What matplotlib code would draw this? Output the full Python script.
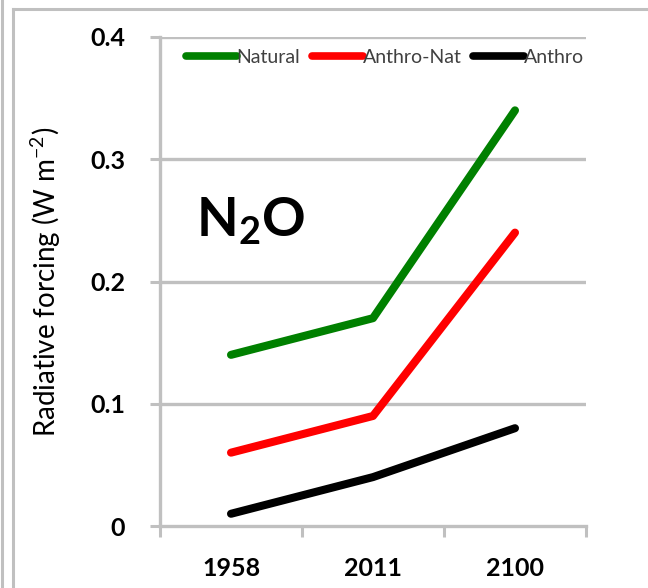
import matplotlib
matplotlib.use("Agg")
import matplotlib.pyplot as plt
from matplotlib.lines import Line2D

# radiative forcing of N2O (W m-2)
years = ["1958", "2011", "2100"]
natural = [0.14, 0.17, 0.34]
anthro_nat = [0.06, 0.09, 0.24]
anthro = [0.01, 0.04, 0.08]
yticks = [0, 0.1, 0.2, 0.3, 0.4]
ytick_labels = ["0", "0.1", "0.2", "0.3", "0.4"]

plt.rcParams['font.family'] = ['Lato', 'DejaVu Sans']
grid_gray = "#c0c0c0"

fig = plt.figure(figsize=(6.48, 5.88), dpi=100)
ax = fig.add_axes([160/648, 1-526/588, 426/648, 489/588])

x = range(len(years))
ax.plot(x, natural, color="#008000", lw=5.8, solid_capstyle="round", solid_joinstyle="round", label="Natural")
ax.plot(x, anthro_nat, color="#ff0000", lw=5.8, solid_capstyle="round", solid_joinstyle="round", label="Anthro-Nat")
ax.plot(x, anthro, color="black", lw=5.8, solid_capstyle="round", solid_joinstyle="round", label="Anthro")

ax.set_xlim(-0.5, 2.5)
ax.set_ylim(0, 0.4)
ax.set_yticks(yticks)
ax.set_yticklabels(ytick_labels, fontsize=18, fontweight="bold")
ax.set_xticks([0, 1, 2])
ax.set_xticklabels(years, fontsize=18, fontweight="bold")
ax.set_xticks([-0.5, 0.5, 1.5, 2.5], minor=True)
ax.tick_params(axis="x", which="major", length=0, pad=22)
ax.tick_params(axis="x", which="minor", length=8, width=2.2, color=grid_gray, direction="out")
ax.tick_params(axis="y", length=7, width=2.2, color=grid_gray, direction="out", pad=18)

for y in yticks[1:]:
    ax.axhline(y, color=grid_gray, lw=2.4, zorder=0)
for side in ["top", "right"]:
    ax.spines[side].set_visible(False)
for side in ["left", "bottom"]:
    ax.spines[side].set_color(grid_gray)
    ax.spines[side].set_linewidth(2.4)
ax.patch.set_alpha(0)

ax.set_ylabel("Radiative forcing (W m$^{\\mathregular{-2}}$)", fontsize=20)
ax.yaxis.set_label_coords(-0.228, 0.5)

ax.text(-0.25, 0.237, "N$_\\mathregular{2}$O", fontsize=39, fontweight="bold",
        va="baseline", ha="left")

leg = ax.legend(loc="upper center", bbox_to_anchor=(0.528, 0.992), ncol=3, frameon=False,
                fontsize=14, handlelength=2.6, handletextpad=0.0, columnspacing=0.6,
                borderaxespad=0)
for t in leg.get_texts():
    t.set_color("#404040")
for h in leg.get_lines():
    h.set_linewidth(5.5)
    h.set_solid_capstyle("round")

# panel frame lines
fig.add_artist(Line2D([2/648, 2/648], [0, 1], transform=fig.transFigure, color=grid_gray, lw=2.2))
fig.add_artist(Line2D([13/648, 13/648], [0, 1 - 9/588], transform=fig.transFigure, color=grid_gray, lw=2.2))
fig.add_artist(Line2D([13/648, 1], [1 - 9/588, 1 - 9/588], transform=fig.transFigure, color=grid_gray, lw=2.2))

fig.savefig("out.png", dpi=100)
